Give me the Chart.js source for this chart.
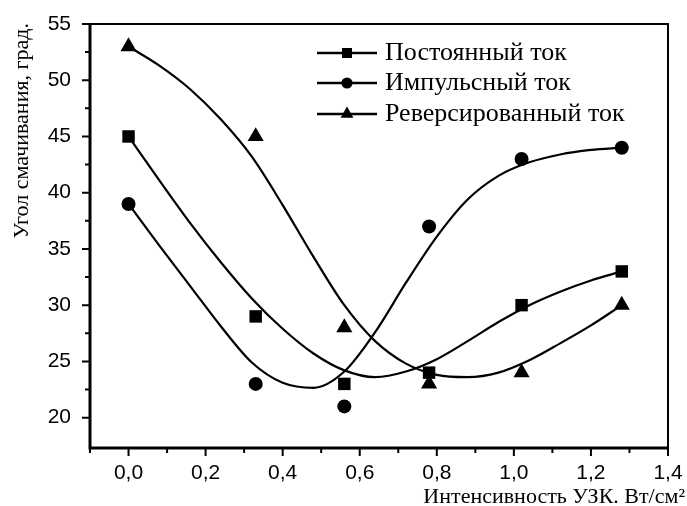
<!DOCTYPE html>
<html>
<head>
<meta charset="utf-8">
<script src="https://cdn.jsdelivr.net/npm/chart.js@4.4.0/dist/chart.umd.min.js"></script>
<style>
body { margin: 0; background: #fff; }
#wrap { width: 687px; height: 506px; }
</style>
</head>
<body>
<div id="wrap"><canvas id="chart" width="687" height="506"></canvas></div>
<script>
// measured points
const seriesNames = ['Постоянный ток', 'Импульсный ток', 'Реверсированный ток'];
const xPoints = [0, 0.33, 0.56, 0.78, 1.02, 1.28];
const dcPoints = [45, 29, 23, 24, 30, 33];
const pulsePoints = [39, 23, 21, 37, 43, 44];
const reversePoints = [53, 45, 28, 23, 24, 30];

// fitted curves
const curveX = [0, 0.08, 0.16, 0.24, 0.32, 0.40, 0.48, 0.56, 0.64, 0.72, 0.80, 0.88, 0.96, 1.04, 1.12, 1.20, 1.28];
const dcCurve = [45.0, 41.1, 37.3, 33.8, 30.6, 27.9, 25.7, 24.2, 23.6, 24.1, 25.2, 26.8, 28.5, 30.0, 31.2, 32.2, 33.0];
const pulseCurve = [39.0, 35.3, 31.7, 28.1, 24.9, 23.1, 22.65, 24.1, 27.6, 32.0, 36.1, 39.4, 41.5, 42.7, 43.4, 43.8, 44.0];
const reverseCurve = [53.0, 51.3, 49.2, 46.5, 43.2, 38.9, 34.3, 30.0, 26.8, 24.8, 23.8, 23.6, 24.0, 25.1, 26.6, 28.2, 30.0];

const xTicks = [0, 0.2, 0.4, 0.6, 0.8, 1.0, 1.2, 1.4];
const xMinorTicks = [-0.1, 0.1, 0.3, 0.5, 0.7, 0.9, 1.1, 1.3];
const yTicks = [20, 25, 30, 35, 40, 45, 50, 55];
const yMinorTicks = [22.5, 27.5, 32.5, 37.5, 42.5, 47.5, 52.5];

const xTitle = 'Интенсивность УЗК. Вт/см²';
const yTitle = 'Угол смачивания, град.';

const markers = [
  { style: 'rect', radius: 8.8 },
  { style: 'circle', radius: 7 },
  { style: 'triangle', radius: 9.3 }
];

function pairs(xs, ys) {
  return xs.map((x, i) => ({ x: x, y: ys[i] }));
}

function pointSet(i, ys) {
  return {
    label: seriesNames[i],
    data: pairs(xPoints, ys),
    showLine: false,
    pointStyle: markers[i].style,
    pointRadius: markers[i].radius,
    backgroundColor: '#000',
    borderWidth: 0
  };
}

function curveSet(ys) {
  return {
    data: pairs(curveX, ys),
    showLine: true,
    borderColor: '#000',
    borderWidth: 2.2,
    pointRadius: 0,
    cubicInterpolationMode: 'monotone'
  };
}

const decor = {
  id: 'decor',
  afterDraw(chart) {
    const ctx = chart.ctx;
    const a = chart.chartArea;
    const xs = chart.scales.x;
    const ys = chart.scales.y;
    ctx.save();
    ctx.strokeStyle = '#000';
    ctx.fillStyle = '#000';

    // frame
    ctx.lineWidth = 2;
    ctx.strokeRect(a.left, a.top, a.right - a.left, a.bottom - a.top);
    ctx.lineWidth = 3;
    ctx.beginPath();
    ctx.moveTo(a.left, a.top);
    ctx.lineTo(a.left, a.bottom);
    ctx.lineTo(a.right, a.bottom);
    ctx.stroke();

    // ticks
    ctx.lineWidth = 2;
    ctx.beginPath();
    xTicks.forEach(v => { const p = xs.getPixelForValue(v); ctx.moveTo(p, a.bottom); ctx.lineTo(p, a.bottom + 8); });
    xMinorTicks.forEach(v => { const p = xs.getPixelForValue(v); ctx.moveTo(p, a.bottom); ctx.lineTo(p, a.bottom + 5); });
    yTicks.forEach(v => { const p = ys.getPixelForValue(v); ctx.moveTo(a.left - 8, p); ctx.lineTo(a.left, p); });
    yMinorTicks.forEach(v => { const p = ys.getPixelForValue(v); ctx.moveTo(a.left - 5, p); ctx.lineTo(a.left, p); });
    ctx.stroke();

    // legend
    ctx.font = '26px "Liberation Serif", "Times New Roman", serif';
    ctx.textBaseline = 'middle';
    ctx.textAlign = 'left';
    const rows = [53, 83, 114];
    seriesNames.forEach((name, i) => {
      const y = rows[i];
      ctx.lineWidth = 2.5;
      ctx.beginPath();
      ctx.moveTo(317, y);
      ctx.lineTo(377, y);
      ctx.stroke();
      Chart.helpers.drawPoint(ctx, { pointStyle: markers[i].style, radius: markers[i].radius * 0.8, rotation: 0, borderWidth: 0 }, 347, y);
      ctx.fillText(name, 385, y);
    });

    // axis titles
    ctx.font = '22px "Liberation Serif", "Times New Roman", serif';
    ctx.textAlign = 'right';
    ctx.textBaseline = 'alphabetic';
    ctx.fillText(xTitle, 685, 503);

    ctx.translate(28, 23);
    ctx.rotate(-Math.PI / 2);
    ctx.textAlign = 'right';
    ctx.fillText(yTitle, 0, 0);
    ctx.restore();
  }
};

function fmt(v) {
  return v.toFixed(1).replace('.', ',');
}

new Chart(document.getElementById('chart'), {
  type: 'scatter',
  data: {
    datasets: [
      pointSet(0, dcPoints),
      pointSet(1, pulsePoints),
      pointSet(2, reversePoints),
      curveSet(dcCurve),
      curveSet(pulseCurve),
      curveSet(reverseCurve)
    ]
  },
  options: {
    responsive: false,
    animation: false,
    layout: { padding: { left: 0, top: 24, right: 19, bottom: 0 } },
    plugins: { legend: { display: false }, tooltip: { enabled: false } },
    scales: {
      x: {
        type: 'linear',
        min: -0.1,
        max: 1.4,
        grid: { display: false },
        border: { display: false },
        afterBuildTicks: s => { s.ticks = xTicks.map(v => ({ value: v })); },
        afterFit: s => { s.height = 58; s.paddingRight = 0; s.paddingLeft = 0; },
        ticks: {
          color: '#000',
          padding: 5,
          font: { family: '"Liberation Sans", Arial, sans-serif', size: 21 },
          callback: v => fmt(v)
        }
      },
      y: {
        min: 17.3,
        max: 55,
        grid: { display: false },
        border: { display: false },
        afterBuildTicks: s => { s.ticks = yTicks.map(v => ({ value: v })); },
        afterFit: s => { s.width = 90; s.paddingTop = 0; s.paddingBottom = 0; },
        ticks: {
          color: '#000',
          padding: 11,
          font: { family: '"Liberation Sans", Arial, sans-serif', size: 21 }
        }
      }
    }
  },
  plugins: [decor]
});
</script>
</body>
</html>
